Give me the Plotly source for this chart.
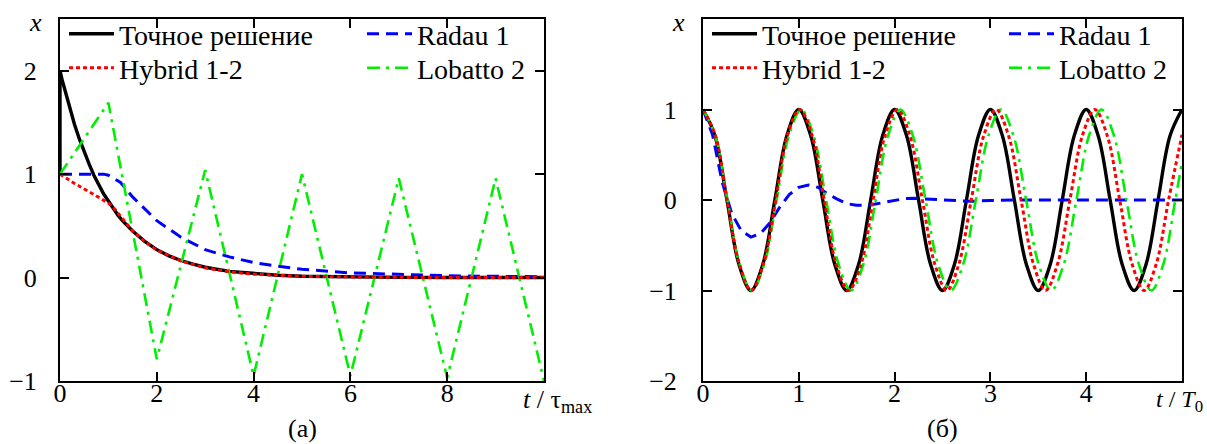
import plotly.graph_objects as go

# ---------------- data: panel (a) ----------------
ta_exact = [0, 0, 0.05, 0.1, 0.2, 0.3, 0.4, 0.5, 0.6, 0.7, 0.8, 0.9, 1.0, 1.1, 1.2, 1.3, 1.4, 1.5,
            1.75, 2.0, 2.25, 2.5, 2.75, 3.0, 3.5, 4.0, 4.5, 5.0, 6.0, 7.0, 8.0, 9.0, 10.0]
xa_exact = [1.0, 2.0, 1.9, 1.81, 1.64, 1.48, 1.34, 1.21, 1.10, 0.99, 0.90, 0.81, 0.74, 0.67, 0.60,
            0.545, 0.495, 0.45, 0.35, 0.27, 0.21, 0.165, 0.13, 0.10, 0.06, 0.037, 0.022, 0.013,
            0.005, 0.002, 0.001, 0.0, 0.0]

ta_hybrid = [0, 0.3, 0.6, 0.9, 1.0, 1.1, 1.25, 1.5, 1.75, 2.0, 2.5, 3.0, 3.5, 4.0, 5.0, 6.0, 7.0, 8.0, 10.0]
xa_hybrid = [1.0, 0.91, 0.83, 0.75, 0.72, 0.68, 0.59, 0.45, 0.35, 0.265, 0.16, 0.095, 0.055, 0.033,
             0.012, 0.004, 0.002, 0.001, 0.0]

ta_radau = [0, 0.5, 0.9, 1.0, 1.25, 1.5, 1.75, 2.0, 2.5, 3.0, 3.5, 4.0, 4.5, 5.0, 6.0, 7.0, 8.0, 9.0, 10.0]
xa_radau = [1.0, 1.0, 1.0, 0.99, 0.92, 0.78, 0.66, 0.55, 0.39, 0.27, 0.20, 0.145, 0.11, 0.08,
            0.045, 0.028, 0.018, 0.012, 0.008]

ta_lobatto = [0, 1, 2, 3, 4, 5, 6, 7, 8, 9, 10]
xa_lobatto = [1.0, 1.69, -0.79, 1.04, -0.95, 1.0, -0.95, 0.96, -0.97, 0.96, -1.0]

# ---------------- data: panel (б) ----------------
tb_exact = [0, 0.125, 0.25, 0.375, 0.5, 0.625, 0.75, 0.875, 1.0, 1.125, 1.25, 1.375, 1.5, 1.625,
            1.75, 1.875, 2.0, 2.125, 2.25, 2.375, 2.5, 2.625, 2.75, 2.875, 3.0, 3.125, 3.25, 3.375,
            3.5, 3.625, 3.75, 3.875, 4.0, 4.125, 4.25, 4.375, 4.5, 4.625, 4.75, 4.875, 5.0]
xb_exact = [1, 0.71, 0, -0.71, -1, -0.71, 0, 0.71, 1, 0.71, 0, -0.71, -1, -0.71, 0, 0.71,
            1, 0.71, 0, -0.71, -1, -0.71, 0, 0.71, 1, 0.71, 0, -0.71, -1, -0.71, 0, 0.71,
            1, 0.71, 0, -0.71, -1, -0.71, 0, 0.71, 1]

tb_hybrid = [0, 0.13, 0.25, 0.38, 0.505, 0.63, 0.76, 0.88, 1.01, 1.14, 1.265, 1.39, 1.52, 1.65,
             1.775, 1.90, 2.03, 2.16, 2.29, 2.42, 2.545, 2.67, 2.80, 2.93, 3.06, 3.19, 3.32, 3.45,
             3.575, 3.70, 3.83, 3.96, 4.09, 4.22, 4.35, 4.48, 4.605, 4.73, 4.86, 5.0]
xb_hybrid = [1, 0.71, 0, -0.71, -1, -0.71, 0, 0.71, 1, 0.71, 0, -0.71, -1, -0.71, 0, 0.71,
             1, 0.71, 0, -0.71, -1, -0.71, 0, 0.71, 1, 0.71, 0, -0.71, -1, -0.71, 0, 0.71,
             1, 0.71, 0, -0.71, -1, -0.71, 0, 0.72]

tb_radau = [0, 0.1, 0.2, 0.3, 0.4, 0.5, 0.6, 0.7, 0.8, 0.9, 1.0, 1.1, 1.2, 1.3, 1.4, 1.5, 1.6,
            1.7, 1.8, 1.9, 2.0, 2.1, 2.2, 2.4, 2.6, 2.8, 3.0, 3.3, 4.0, 5.0]
xb_radau = [1.0, 0.72, 0.2, -0.15, -0.34, -0.41, -0.37, -0.25, -0.08, 0.06, 0.14, 0.166, 0.14,
            0.07, 0.01, -0.04, -0.058, -0.06, -0.045, -0.025, 0.0, 0.015, 0.018, 0.005, -0.01,
            -0.015, -0.005, 0.0, 0.0, 0.0]

tb_lobatto = [0, 0.1275, 0.255, 0.3825, 0.51, 0.639, 0.768, 0.896, 1.025, 1.155, 1.285, 1.415,
              1.545, 1.674, 1.803, 1.931, 2.06, 2.191, 2.323, 2.454, 2.585, 2.716, 2.848, 2.979,
              3.11, 3.241, 3.373, 3.504, 3.635, 3.766, 3.898, 4.029, 4.16, 4.29, 4.42, 4.55,
              4.68, 4.805, 4.93, 5.0]
xb_lobatto = [1, 0.71, 0, -0.71, -1, -0.71, 0, 0.71, 1, 0.71, 0, -0.71, -1, -0.71, 0, 0.71,
              1, 0.71, 0, -0.71, -1, -0.71, 0, 0.71, 1, 0.71, 0, -0.71, -1, -0.71, 0, 0.71,
              1, 0.71, 0, -0.71, -1, -0.71, 0, 0.42]

names = ["Точное решение", "Radau 1", "Lobatto 2", "Hybrid 1-2"]
xticks_a = [0, 2, 4, 6, 8]
yticks_a = [-1, 0, 1, 2]
xticks_b = [0, 1, 2, 3, 4]
yticks_b = [-2, -1, 0, 1]

# ---------------- styles ----------------
FONT = "Liberation Serif, Times New Roman, Tinos, DejaVu Serif, serif"
styles = {
    "Точное решение": dict(color="black", width=3.4, dash="solid"),
    "Radau 1": dict(color="#0000ff", width=3, dash="12px,7px"),
    "Lobatto 2": dict(color="#00ee00", width=2.6, dash="13px,6px,3px,6px"),
    "Hybrid 1-2": dict(color="#ff0000", width=3, dash="4px,3px"),
}
# legend slot (column, row) for each series
slot = {"Точное решение": (0, 0), "Radau 1": (1, 0), "Hybrid 1-2": (0, 1), "Lobatto 2": (1, 1)}

W, H = 1207, 444
# legend left edges (px) per panel & column, row centres (px)
leg_x = {("a", 0): 64, ("a", 1): 362, ("b", 0): 707, ("b", 1): 1004}
leg_y = {0: 34, 1: 68}

fig = go.Figure()
panel_a = {"Точное решение": (ta_exact, xa_exact), "Radau 1": (ta_radau, xa_radau),
           "Lobatto 2": (ta_lobatto, xa_lobatto), "Hybrid 1-2": (ta_hybrid, xa_hybrid)}
panel_b = {"Точное решение": (tb_exact, xb_exact), "Radau 1": (tb_radau, xb_radau),
           "Lobatto 2": (tb_lobatto, xb_lobatto), "Hybrid 1-2": (tb_hybrid, xb_hybrid)}

leg_common = dict(bgcolor="rgba(0,0,0,0)", borderwidth=0, xanchor="left", yanchor="middle",
                  font=dict(family=FONT, size=28, color="black"), itemwidth=45)
legends = {}
count = 0
for panel, data, xa, ya in [("a", panel_a, "x", "y"), ("b", panel_b, "x2", "y2")]:
    for name in names:
        count += 1
        lname = "legend" if count == 1 else f"legend{count}"
        col, row = slot[name]
        legends[lname] = dict(x=leg_x[(panel, col)] / W, y=1 - leg_y[row] / H, **leg_common)
        t, x = data[name]
        shape = "spline" if (panel == "b" and name != "Radau 1") else "linear"
        fig.add_trace(go.Scatter(x=t, y=x, mode="lines", name=name,
                                 line=dict(**styles[name], shape=shape),
                                 legend=lname, xaxis=xa, yaxis=ya))

XA = [60 / W, 544 / W]
XB = [703 / W, 1182 / W]
YD = [(H - 381) / H, (H - 19) / H]

axis_common = dict(showline=True, linecolor="black", linewidth=2, mirror="ticks",
                   ticks="inside", ticklen=9, tickwidth=2, tickcolor="black",
                   showgrid=False, zeroline=False, automargin=False,
                   tickfont=dict(family=FONT, size=26, color="black"))

def fmt(v):
    return ("\u2212" + str(abs(v))) if v < 0 else str(v)

fig.update_layout(
    width=W, height=H, margin=dict(l=0, r=0, t=0, b=0),
    paper_bgcolor="white", plot_bgcolor="white",
    xaxis=dict(domain=XA, range=[0, 10], tickvals=xticks_a, ticktext=[fmt(v) for v in xticks_a],
               anchor="y", ticklabelstandoff=-12, **axis_common),
    yaxis=dict(domain=YD, range=[-1, 2.5], tickvals=yticks_a, ticktext=[fmt(v) for v in yticks_a],
               anchor="x", ticklabelstandoff=16, **axis_common),
    xaxis2=dict(domain=XB, range=[0, 5], tickvals=xticks_b, ticktext=[fmt(v) for v in xticks_b],
                anchor="y2", ticklabelstandoff=-12, **axis_common),
    yaxis2=dict(domain=YD, range=[-2, 2], tickvals=yticks_b, ticktext=[fmt(v) for v in yticks_b],
                anchor="x2", ticklabelstandoff=19, **axis_common),
    showlegend=True,
    **legends,
)

ann_font = dict(family=FONT, size=26, color="black")
annotations = [
    dict(text="<i>x</i>", x=35 / W, y=1 - 22 / H, xref="paper", yref="paper",
         xanchor="center", yanchor="middle", showarrow=False, font=ann_font),
    dict(text="<i>x</i>", x=678 / W, y=1 - 22 / H, xref="paper", yref="paper",
         xanchor="center", yanchor="middle", showarrow=False, font=ann_font),
    dict(text="<i>t</i> / τ<sub>max</sub>", x=557 / W, y=1 - 401 / H, xref="paper", yref="paper",
         xanchor="center", yanchor="middle", showarrow=False, font=ann_font),
    dict(text="<i>t</i> / <i>T</i><sub>0</sub>", x=1179 / W, y=1 - 401 / H, xref="paper",
         yref="paper", xanchor="center", yanchor="middle", showarrow=False,
         font=dict(family=FONT, size=24, color="black")),
    dict(text="(a)", x=302 / W, y=1 - 428 / H, xref="paper", yref="paper",
         xanchor="center", yanchor="middle", showarrow=False, font=ann_font),
    dict(text="(б)", x=942 / W, y=1 - 428 / H, xref="paper", yref="paper",
         xanchor="center", yanchor="middle", showarrow=False, font=ann_font),
]
fig.update_layout(annotations=annotations)

fig.write_html("out.html", config={"displayModeBar": False},
               post_script="document.body.style.margin='0px';document.body.style.padding='0px';"
                           "document.body.style.overflow='hidden';")
